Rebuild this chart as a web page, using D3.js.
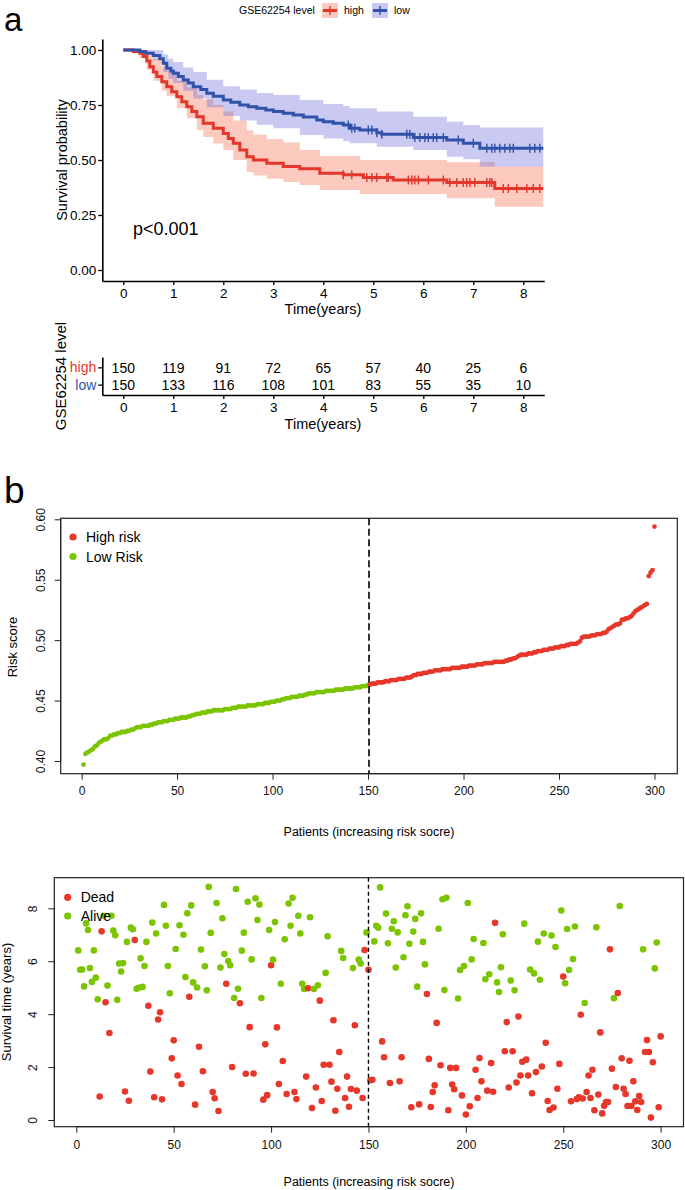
<!DOCTYPE html>
<html><head><meta charset="utf-8">
<script src="https://cdn.jsdelivr.net/npm/d3@7"></script>
<style>body{margin:0;background:#fff;} svg{display:block;font-family:"Liberation Sans",Arial,Helvetica,sans-serif;}</style>
</head><body>
<svg id="c" width="685" height="1190"></svg>
<script>
// ---------------- DATA ----------------
const groups = ["high", "low"];
const kmTicksX = [0,1,2,3,4,5,6,7,8];
const kmTicksY = [0, 0.25, 0.5, 0.75, 1];
// KM step curves [time, survival]
const survHigh = [[0,1.0],[0.2,0.993],[0.33,0.985],[0.4,0.97],[0.47,0.95],[0.53,0.924],[0.6,0.9],[0.67,0.879],[0.77,0.856],[0.87,0.833],[0.97,0.81],[1.07,0.788],[1.17,0.765],[1.27,0.742],[1.37,0.72],[1.47,0.697],[1.6,0.667],[1.8,0.644],[2.0,0.621],[2.1,0.598],[2.2,0.576],[2.33,0.545],[2.47,0.515],[2.6,0.5],[2.87,0.485],[3.2,0.47],[3.53,0.46],[3.93,0.44],[4.4,0.433],[4.8,0.421],[5.4,0.409],[6.47,0.398],[7.43,0.371]];
const survLow = [[0,1.0],[0.33,0.993],[0.45,0.985],[0.6,0.975],[0.73,0.96],[0.8,0.94],[0.87,0.917],[0.95,0.905],[1.0,0.894],[1.1,0.88],[1.2,0.864],[1.3,0.85],[1.4,0.833],[1.55,0.82],[1.67,0.803],[1.8,0.79],[2.0,0.773],[2.15,0.762],[2.33,0.75],[2.5,0.742],[2.67,0.735],[2.85,0.727],[3.0,0.72],[3.2,0.712],[3.4,0.705],[3.6,0.695],[3.87,0.682],[4.0,0.674],[4.2,0.667],[4.4,0.659],[4.53,0.644],[4.73,0.636],[5.07,0.624],[5.17,0.617],[5.8,0.602],[6.47,0.591],[6.8,0.576],[7.13,0.553]];
// confidence bands [time, lower, upper]
const bandHigh = [[0,1,1],[0.33,0.965,1],[0.47,0.91,0.99],[0.6,0.86,0.96],[0.77,0.815,0.925],[0.87,0.79,0.905],[1.07,0.735,0.86],[1.27,0.69,0.83],[1.47,0.635,0.795],[1.6,0.605,0.775],[1.8,0.575,0.75],[2.0,0.545,0.72],[2.2,0.50,0.68],[2.47,0.445,0.635],[2.6,0.43,0.615],[2.87,0.415,0.595],[3.2,0.40,0.58],[3.53,0.386,0.545],[3.93,0.364,0.518],[4.73,0.345,0.5],[6.47,0.326,0.49],[7.43,0.288,0.47]];
const bandLow = [[0,1,1],[0.33,0.985,1],[0.6,0.955,1],[0.8,0.9,0.98],[0.9,0.87,0.96],[1.0,0.85,0.945],[1.2,0.815,0.92],[1.4,0.78,0.9],[1.67,0.74,0.865],[2.0,0.70,0.835],[2.33,0.68,0.82],[2.67,0.66,0.805],[3.0,0.644,0.795],[3.53,0.614,0.773],[4.0,0.598,0.755],[4.4,0.585,0.745],[4.53,0.576,0.735],[5.07,0.56,0.72],[5.8,0.545,0.697],[6.47,0.515,0.674],[6.8,0.503,0.659],[7.13,0.47,0.648]];
const censorHigh = [4.4,4.57,4.87,4.97,5.07,5.27,5.3,5.7,5.77,5.83,5.9,6.1,6.4,6.53,6.67,6.8,6.87,6.93,7.03,7.27,7.33,7.37,7.6,7.7,7.87,8.07,8.2,8.33];
const censorLow = [4.5,4.57,4.63,4.9,4.97,5.07,5.17,5.67,5.73,5.83,5.93,6.03,6.1,6.2,6.27,6.4,6.7,7.0,7.27,7.37,7.43,7.53,7.63,7.73,7.8,8.13,8.23,8.33];
const riskHigh = [150,119,91,72,65,57,40,25,6];
const riskLow = [150,133,116,108,101,83,55,35,10];

// risk score per patient (sorted)
const riskScore = [
0.397,0.406,0.407,0.408,0.409,0.410,0.412,0.413,0.415,0.416,
0.417,0.418,0.418,0.419,0.421,0.421,0.422,0.422,0.423,0.423,
0.424,0.424,0.424,0.425,0.425,0.426,0.426,0.427,0.428,0.428,
0.428,0.429,0.429,0.429,0.429,0.430,0.430,0.431,0.431,0.432,
0.432,0.432,0.433,0.433,0.433,0.434,0.434,0.434,0.435,0.435,
0.435,0.436,0.436,0.436,0.436,0.437,0.437,0.438,0.438,0.439,
0.439,0.439,0.440,0.440,0.440,0.441,0.441,0.441,0.442,0.442,
0.442,0.442,0.442,0.442,0.443,0.443,0.443,0.443,0.444,0.444,
0.444,0.445,0.445,0.445,0.445,0.445,0.446,0.446,0.446,0.446,
0.446,0.447,0.447,0.447,0.447,0.448,0.448,0.448,0.449,0.449,
0.449,0.450,0.450,0.450,0.451,0.451,0.452,0.452,0.452,0.453,
0.453,0.453,0.453,0.454,0.454,0.454,0.455,0.455,0.456,0.456,
0.456,0.456,0.457,0.457,0.457,0.457,0.457,0.458,0.458,0.458,
0.458,0.458,0.459,0.459,0.459,0.459,0.459,0.460,0.460,0.460,
0.460,0.460,0.461,0.461,0.461,0.461,0.462,0.462,0.462,0.463,
0.463,0.464,0.464,0.464,0.465,0.465,0.465,0.465,0.466,0.466,
0.466,0.467,0.467,0.467,0.467,0.468,0.468,0.468,0.468,0.469,
0.469,0.469,0.470,0.471,0.471,0.472,0.472,0.472,0.473,0.473,
0.473,0.474,0.474,0.474,0.475,0.475,0.475,0.475,0.476,0.476,
0.476,0.476,0.476,0.477,0.477,0.477,0.477,0.477,0.478,0.478,
0.478,0.478,0.479,0.479,0.479,0.479,0.480,0.480,0.480,0.480,
0.481,0.481,0.481,0.481,0.481,0.482,0.482,0.482,0.482,0.482,
0.482,0.483,0.483,0.484,0.484,0.485,0.485,0.486,0.487,0.488,
0.488,0.488,0.488,0.489,0.489,0.489,0.490,0.490,0.491,0.491,
0.491,0.492,0.492,0.492,0.493,0.493,0.493,0.494,0.494,0.494,
0.495,0.495,0.495,0.496,0.496,0.497,0.497,0.497,0.497,0.498,
0.499,0.502,0.503,0.503,0.503,0.503,0.504,0.504,0.504,0.505,
0.505,0.505,0.506,0.506,0.507,0.509,0.510,0.511,0.512,0.513,
0.513,0.514,0.517,0.517,0.518,0.518,0.519,0.520,0.522,0.524,
0.525,0.526,0.527,0.528,0.529,0.530,0.553,0.556,0.558,0.594];
const riskCut = 150;
const riskTicksY = [0.40,0.45,0.50,0.55,0.60];
const patientTicks = [0,50,100,150,200,250,300];

// survival time (years) per patient, same order
const survTime = [
6.41,5.68,5.69,5.05,7.43,7.18,5.74,5.22,6.41,5.38,
4.56,0.89,7.13,7.72,4.45,5.08,3.29,7.72,7.16,6.98,
4.54,5.91,5.61,5.93,1.08,6.73,0.73,7.27,7.21,6.80,
4.96,5.00,6.11,5.03,5.82,6.73,4.32,1.83,7.46,0.86,
7.05,3.80,4.07,0.78,8.13,7.34,5.82,4.79,2.33,3.01,
6.46,1.68,7.36,1.36,7.00,5.40,7.81,4.66,8.11,5.20,
0.58,5.01,2.77,6.44,1.84,5.81,4.90,8.81,7.07,1.06,
0.82,8.20,0.34,5.76,7.62,6.27,5.15,6.01,5.85,2.00,
4.61,8.73,4.96,4.41,6.40,7.08,1.75,8.25,3.51,6.07,
1.76,8.38,7.56,8.14,4.61,0.77,2.86,0.94,7.18,5.85,
6.06,7.48,3.50,1.36,5.15,2.23,6.83,0.98,8.18,7.34,
8.40,1.06,0.79,7.72,7.05,5.15,4.95,1.64,4.98,7.66,
0.45,4.95,1.23,5.09,4.51,0.72,2.09,5.56,6.94,2.09,
1.45,3.77,0.35,1.18,2.57,6.39,6.12,0.83,1.64,0.50,
1.17,5.74,3.58,1.11,6.06,5.91,0.83,6.42,7.09,5.68,
1.50,1.52,6.75,7.34,7.27,8.79,2.97,2.37,7.80,6.68,
1.40,7.23,7.51,5.76,7.09,1.46,2.37,6.15,7.74,8.08,
6.66,0.48,7.12,7.60,5.04,0.59,7.81,6.73,5.88,4.76,
2.31,0.49,1.06,1.31,3.67,7.23,2.07,8.34,4.91,8.40,
0.37,1.97,1.34,1.16,1.97,4.59,5.67,0.93,5.82,0.21,
8.20,0.52,6.07,6.84,1.90,0.83,2.34,1.46,6.69,5.32,
1.11,5.51,2.15,1.07,7.45,5.20,4.84,5.77,7.02,2.60,
3.70,1.23,5.27,2.60,4.90,1.42,3.91,1.68,2.20,7.42,
2.28,1.68,5.69,1.01,5.54,1.81,6.74,5.30,2.02,7.05,
2.92,0.72,0.38,6.97,0.47,6.54,1.18,2.12,7.92,5.42,
5.17,7.22,5.67,0.71,6.08,7.31,0.79,0.86,3.98,0.81,
4.42,1.06,1.68,0.83,1.90,0.37,7.28,0.96,3.31,0.25,
0.54,0.68,0.68,6.45,1.94,4.60,1.25,4.80,8.09,2.33,
1.18,0.98,0.53,2.24,0.53,1.46,0.71,0.38,0.91,0.68,
6.45,2.57,3.02,2.57,0.09,2.18,5.73,6.71,0.48,3.16];
// 1 = dead, 0 = alive
const survStatus = [
0,0,0,0,0,0,0,0,0,0, 0,1,1,0,1,0,1,0,0,0, 0,0,0,0,1,0,1,0,0,1, 0,0,0,0,0,0,1,1,0,1,
0,1,1,1,0,0,0,0,1,1, 0,1,0,1,0,0,0,1,0,0, 1,0,1,0,1,0,0,0,0,1, 1,0,1,0,0,0,1,0,0,1,
0,0,0,1,0,0,1,0,1,0, 1,0,0,0,0,1,1,1,0,1, 0,0,1,1,0,1,0,1,0,0, 0,1,1,0,0,0,0,1,1,0,
1,0,1,0,1,1,1,0,0,1, 1,1,1,1,1,0,0,1,1,1, 1,0,1,1,0,0,1,1,0,1, 1,1,0,0,0,0,1,1,0,0,
1,0,0,0,0,1,1,0,0,0, 0,1,0,0,0,1,0,0,0,1, 1,1,1,1,1,0,1,0,0,0, 1,1,1,1,1,0,0,1,0,1,
0,1,0,0,1,1,1,1,0,0, 1,0,1,1,1,0,0,0,0,1, 1,1,0,1,0,1,1,1,1,0, 1,1,0,1,0,1,0,0,1,0,
1,1,1,0,1,0,1,1,0,1, 0,0,0,1,0,0,1,1,1,1, 0,1,1,1,1,1,0,1,1,1, 1,1,1,1,1,0,1,1,0,1,
1,1,1,1,1,1,1,1,1,1, 0,1,1,1,1,1,0,0,1,1];
const timeTicksY = [0,2,4,6,8];

// ---------------- DRAW ----------------
const svg = d3.select("#c");
const RED = "#E4372B", BLUE = "#3152AA", GREEN = "#7BC400", PRED = "#E6372A";
const FILL_R = "rgb(244,100,70)", FILL_B = "rgb(100,100,215)";

// panel labels
svg.append("text").attr("x",4).attr("y",31).attr("font-size",33).text("a");
svg.append("text").attr("x",4).attr("y",503).attr("font-size",37).text("b");

// ---- KM ----
const kmX = d3.scaleLinear().domain([-0.42, 8.42]).range([102.3, 544.3]);
const kmY = d3.scaleLinear().domain([-0.05, 1.05]).range([281, 39]);
const tEnd = 8.4;
const km = svg.append("g");
function bandPath(b){
  const pts = b.concat([[tEnd, b[b.length-1][1], b[b.length-1][2]]]);
  return d3.area().x(d=>kmX(d[0])).y0(d=>kmY(d[1])).y1(d=>kmY(d[2])).curve(d3.curveStepAfter)(pts);
}
function stepPath(s){
  const pts = s.concat([[tEnd, s[s.length-1][1]]]);
  return d3.line().x(d=>kmX(d[0])).y(d=>kmY(d[1])).curve(d3.curveStepAfter)(pts);
}
function survAt(s,t){ let v=s[0][1]; for(const d of s){ if(d[0]<=t) v=d[1]; } return v; }
km.append("path").attr("d",bandPath(bandHigh)).attr("fill",FILL_R).attr("opacity",0.35);
km.append("path").attr("d",bandPath(bandLow)).attr("fill",FILL_B).attr("opacity",0.35);
km.append("path").attr("d",stepPath(survHigh)).attr("fill","none").attr("stroke",RED).attr("stroke-width",3);
km.append("path").attr("d",stepPath(survLow)).attr("fill","none").attr("stroke",BLUE).attr("stroke-width",3);
[[censorHigh,survHigh,RED],[censorLow,survLow,BLUE]].forEach(([c,s,col])=>{
  km.selectAll(null).data(c).enter().append("line")
    .attr("x1",d=>kmX(d)).attr("x2",d=>kmX(d))
    .attr("y1",d=>kmY(survAt(s,d))-4.5).attr("y2",d=>kmY(survAt(s,d))+4.5)
    .attr("stroke",col).attr("stroke-width",1.4);
});
function styleAxis(g, fs){
  g.selectAll("path.domain").attr("stroke","#000").attr("stroke-width",1.6);
  g.selectAll(".tick line").attr("stroke","#000").attr("stroke-width",1.3);
  g.selectAll(".tick text").attr("fill","#000").attr("font-size",fs).attr("font-family",'"Liberation Sans",Arial,sans-serif');
}
const kmXA = km.append("g").attr("transform","translate(0,281)")
  .call(d3.axisBottom(kmX).tickValues(kmTicksX).tickSize(4).tickSizeOuter(0).tickPadding(3));
styleAxis(kmXA,13.5);
const kmYA = km.append("g").attr("transform","translate(102.3,0)")
  .call(d3.axisLeft(kmY).tickValues(kmTicksY).tickFormat(d3.format(".2f")).tickSize(4).tickSizeOuter(0).tickPadding(2));
styleAxis(kmYA,13.5);
km.append("text").attr("x",323).attr("y",314).attr("text-anchor","middle").attr("font-size",14.5).text("Time(years)");
km.append("text").attr("transform","translate(67,160) rotate(-90)").attr("text-anchor","middle").attr("font-size",14.5).text("Survival probability");
km.append("text").attr("x",133).attr("y",235).attr("font-size",18).text("p<0.001");

// legend
const lg = svg.append("g");
lg.append("text").attr("x",239).attr("y",14).attr("font-size",10.5).text("GSE62254 level");
[[RED,FILL_R,322,"high"],[BLUE,FILL_B,372,"low"]].forEach(([c,f,x,lab])=>{
  lg.append("rect").attr("x",x).attr("y",3).attr("width",16).attr("height",15).attr("fill",f).attr("opacity",0.35);
  lg.append("line").attr("x1",x+1).attr("x2",x+15).attr("y1",10.5).attr("y2",10.5).attr("stroke",c).attr("stroke-width",3);
  lg.append("line").attr("x1",x+8).attr("x2",x+8).attr("y1",6).attr("y2",15).attr("stroke",c).attr("stroke-width",1.4);
  lg.append("text").attr("x",x+22).attr("y",14).attr("font-size",10.5).text(lab);
});

// ---- risk table ----
const tb = svg.append("g");
const tbY = d3.scalePoint().domain(groups).range([357,395]).padding(0.6);
[[riskHigh,"high"],[riskLow,"low"]].forEach(([arr,g])=>{
  tb.selectAll(null).data(arr).enter().append("text")
    .attr("x",(d,i)=>kmX(kmTicksX[i])).attr("y",tbY(g)+5.5)
    .attr("text-anchor","middle").attr("font-size",14).text(d=>d);
});
const tbXA = tb.append("g").attr("transform","translate(0,395)")
  .call(d3.axisBottom(kmX).tickValues(kmTicksX).tickSize(4).tickSizeOuter(0).tickPadding(3));
styleAxis(tbXA,13.5);
const tbYA = tb.append("g").attr("transform","translate(102.3,0)")
  .call(d3.axisLeft(tbY).tickSize(4).tickSizeOuter(0).tickPadding(2));
styleAxis(tbYA,14);
tbYA.selectAll(".tick text").attr("fill",d=>d==="high"?RED:BLUE);
tb.append("text").attr("x",323).attr("y",429).attr("text-anchor","middle").attr("font-size",14.5).text("Time(years)");
tb.append("text").attr("transform","translate(66,376) rotate(-90)").attr("text-anchor","middle").attr("font-size",15).text("GSE62254 level");

// ---- risk score plot ----
function rAxis(g){
  g.selectAll("path.domain").attr("stroke","#222").attr("stroke-width",1);
  g.selectAll(".tick line").attr("stroke","#222").attr("stroke-width",1);
  g.selectAll(".tick text").attr("fill","#111").attr("font-size",12).attr("font-family",'"Liberation Sans",Arial,sans-serif');
}
const rs = svg.append("g");
const rX = d3.scaleLinear().domain([-10.96, 311.96]).range([60.7, 677.3]);
const rY = d3.scaleLinear().domain([0.38949, 0.60083]).range([773.7, 518.3]);
rs.append("rect").attr("x",60.7).attr("y",518.3).attr("width",616.6).attr("height",255.4).attr("fill","none").attr("stroke","#222").attr("stroke-width",1.2);
rs.selectAll(null).data(riskScore).enter().append("circle")
  .attr("cx",(d,i)=>rX(i+1)).attr("cy",d=>rY(d)).attr("r",2.4)
  .attr("fill",(d,i)=>i+1>riskCut?PRED:GREEN);
rs.append("line").attr("x1",rX(riskCut+0.5)).attr("x2",rX(riskCut+0.5)).attr("y1",518.3).attr("y2",773.7)
  .attr("stroke","#000").attr("stroke-width",1.6).attr("stroke-dasharray","7,3.5");
const rXA = rs.append("g").attr("transform","translate(0,773.7)")
  .call(d3.axisBottom(rX).tickValues(patientTicks).tickSize(6).tickSizeOuter(0).tickPadding(7));
rAxis(rXA);
rXA.select("path.domain").attr("d",`M${rX(0)},0H${rX(300)}`);
const rYA = rs.append("g").attr("transform","translate(60.7,0)")
  .call(d3.axisLeft(rY).tickValues(riskTicksY).tickFormat(d3.format(".2f")).tickSize(6).tickSizeOuter(0));
rAxis(rYA);
rYA.select("path.domain").attr("d",`M0,${rY(0.4)}V${rY(0.6)}`);
rYA.selectAll(".tick text").attr("text-anchor","middle").attr("x",null).attr("dy",null)
  .attr("transform","translate(-15,0) rotate(-90)").attr("dy","-0.1em");
rs.append("text").attr("transform","translate(16.5,647) rotate(-90)").attr("text-anchor","middle").attr("font-size",13).text("Risk score");
rs.append("text").attr("x",369).attr("y",836).attr("text-anchor","middle").attr("font-size",12.5).text("Patients (increasing risk socre)");
[[PRED,"High risk",537],[GREEN,"Low Risk",556.5]].forEach(([c,t,y])=>{
  rs.append("circle").attr("cx",73).attr("cy",y).attr("r",3.6).attr("fill",c);
  rs.append("text").attr("x",86).attr("y",y+5).attr("font-size",14).text(t);
});

// ---- survival scatter ----
const sc = svg.append("g");
const sX = d3.scaleLinear().domain([-11.3, 312]).range([54.3, 684]);
const sY = d3.scaleLinear().domain([-0.253, 9.157]).range([1126.7, 877.7]);
sc.append("rect").attr("x",54.3).attr("y",877.7).attr("width",629.2).attr("height",249).attr("fill","none").attr("stroke","#222").attr("stroke-width",1.2);
sc.selectAll(null).data(survTime).enter().append("circle")
  .attr("cx",(d,i)=>sX(i+1)).attr("cy",d=>sY(d)).attr("r",3.3)
  .attr("fill",(d,i)=>survStatus[i]===1?PRED:GREEN);
sc.append("line").attr("x1",sX(riskCut)).attr("x2",sX(riskCut)).attr("y1",877.7).attr("y2",1126.7)
  .attr("stroke","#000").attr("stroke-width",1.4).attr("stroke-dasharray","4,3");
const sXA = sc.append("g").attr("transform","translate(0,1126.7)")
  .call(d3.axisBottom(sX).tickValues(patientTicks).tickSize(6).tickSizeOuter(0).tickPadding(8));
rAxis(sXA);
sXA.select("path.domain").attr("d",`M${sX(0)},0H${sX(300)}`);
const sYA = sc.append("g").attr("transform","translate(54.3,0)")
  .call(d3.axisLeft(sY).tickValues(timeTicksY).tickSize(6).tickSizeOuter(0));
rAxis(sYA);
sYA.select("path.domain").attr("d",`M0,${sY(0)}V${sY(8)}`);
sYA.selectAll(".tick text").attr("text-anchor","middle").attr("x",null).attr("dy",null)
  .attr("transform","translate(-16,0) rotate(-90)").attr("dy","-0.1em");
sc.append("text").attr("transform","translate(11,1002) rotate(-90)").attr("text-anchor","middle").attr("font-size",13).text("Survival time (years)");
sc.append("text").attr("x",369).attr("y",1186).attr("text-anchor","middle").attr("font-size",12.5).text("Patients (increasing risk socre)");
[[PRED,"Dead",897.3],[GREEN,"Alive",916]].forEach(([c,t,y])=>{
  sc.append("circle").attr("cx",67.7).attr("cy",y).attr("r",3.6).attr("fill",c);
  sc.append("text").attr("x",80.7).attr("y",y+5).attr("font-size",14).text(t);
});
</script>
</body></html>
